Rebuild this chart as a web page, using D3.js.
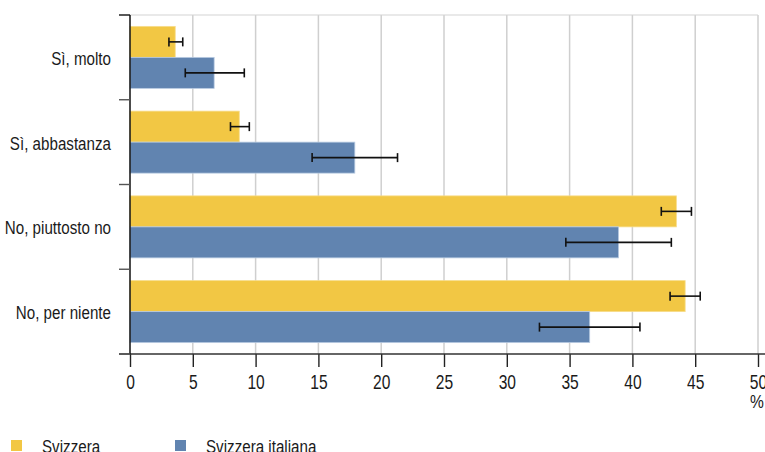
<!DOCTYPE html>
<html>
<head>
<meta charset="utf-8">
<script src="https://cdn.jsdelivr.net/npm/d3@7"></script>
<style>
  html, body { margin: 0; padding: 0; background: #fff; }
  svg { display: block; }
  text { font-family: "Liberation Sans", Arial, sans-serif; fill: #1a1a1a; }
</style>
</head>
<body>
<svg id="chart" width="765" height="452"></svg>
<script>
// Answer categories (top to bottom)
const categories = ["Sì, molto", "Sì, abbastanza", "No, piuttosto no", "No, per niente"];
const seriesNames = ["Svizzera", "Svizzera italiana"];
const seriesColors = ["#F2C744", "#6184B0"];
const seriesEdges = ["#F7DC8A", "#B9CBE2"];

// Shares in percent with confidence intervals
const svizzera = [3.6, 8.7, 43.5, 44.2];
const svizzeraLow = [3.1, 8.0, 42.3, 43.0];
const svizzeraHigh = [4.2, 9.5, 44.7, 45.4];

const italiana = [6.7, 17.9, 38.9, 36.6];
const italianaLow = [4.4, 14.5, 34.7, 32.6];
const italianaHigh = [9.1, 21.3, 43.1, 40.6];

const xTicks = [0, 5, 10, 15, 20, 25, 30, 35, 40, 45, 50];

const values = [svizzera, italiana];
const lows = [svizzeraLow, italianaLow];
const highs = [svizzeraHigh, italianaHigh];

const rows = [];
categories.forEach((c, i) => {
  seriesNames.forEach((s, j) => {
    rows.push({ cat: c, series: s, idx: j, value: values[j][i], low: lows[j][i], high: highs[j][i] });
  });
});

// Narrow lettering: regular sans squeezed horizontally
const NARROW = 0.82;
const NARROW_TICKS = 0.78;

const svg = d3.select("#chart");
const plotLeft = 130, plotRight = 758, plotTop = 15, plotBottom = 354;

const x = d3.scaleLinear().domain([0, 50]).range([plotLeft, plotRight]);
const y0 = d3.scaleBand().domain(categories).range([plotTop, plotBottom]).padding(0);
const y1 = d3.scaleBand().domain(seriesNames).range([0, y0.bandwidth()]).paddingInner(0).paddingOuter(0.367);

// Gridlines
svg.append("g").selectAll("line")
  .data(xTicks.filter(t => t > 0))
  .join("line")
  .attr("x1", d => x(d)).attr("x2", d => x(d))
  .attr("y1", plotTop).attr("y2", plotBottom)
  .attr("stroke", "#cfcfcf").attr("stroke-width", 1.5);

// Top frame line
svg.append("line")
  .attr("x1", plotLeft).attr("x2", plotRight).attr("y1", plotTop).attr("y2", plotTop)
  .attr("stroke", "#d4d4d4").attr("stroke-width", 1.2);

// Bars
svg.append("g").selectAll("rect")
  .data(rows)
  .join("rect")
  .attr("x", x(0))
  .attr("y", d => y0(d.cat) + y1(d.series))
  .attr("width", d => x(d.value) - x(0))
  .attr("height", y1.bandwidth())
  .attr("fill", d => seriesColors[d.idx])
  .attr("stroke", d => seriesEdges[d.idx])
  .attr("stroke-width", 0.8);

// Error bars
const eb = svg.append("g").attr("stroke", "#111").attr("stroke-width", 1.6).attr("fill", "none");
rows.forEach(d => {
  const cy = y0(d.cat) + y1(d.series) + y1.bandwidth() / 2;
  eb.append("line").attr("x1", x(d.low)).attr("x2", x(d.high)).attr("y1", cy).attr("y2", cy);
  eb.append("line").attr("x1", x(d.low)).attr("x2", x(d.low)).attr("y1", cy - 4.5).attr("y2", cy + 4.5);
  eb.append("line").attr("x1", x(d.high)).attr("x2", x(d.high)).attr("y1", cy - 4.5).attr("y2", cy + 4.5);
});

// Bottom axis
const xAxis = d3.axisBottom(x).tickValues(xTicks).tickSize(13).tickSizeOuter(0).tickPadding(0);
const gx = svg.append("g").attr("transform", `translate(0,${plotBottom})`).call(xAxis);
gx.select(".domain").remove();
gx.selectAll(".tick line").attr("stroke", "#222").attr("stroke-width", 1.4);
gx.selectAll(".tick text")
  .attr("font-size", 20)
  .attr("fill", "#1a1a1a")
  .attr("y", 0).attr("dy", null)
  .attr("transform", `translate(0,35) scale(${NARROW_TICKS},1)`)
  .style("font-family", '"Liberation Sans", Arial, sans-serif');
svg.append("line")
  .attr("x1", 119).attr("x2", 765).attr("y1", plotBottom).attr("y2", plotBottom)
  .attr("stroke", "#333").attr("stroke-width", 1.4);

// Left axis: vertical line with ticks at category boundaries
svg.append("line")
  .attr("x1", plotLeft).attr("x2", plotLeft).attr("y1", plotTop).attr("y2", plotBottom)
  .attr("stroke", "#111").attr("stroke-width", 1.5);
const bounds = categories.map(c => y0(c)).concat([plotBottom]);
svg.append("g").selectAll("line")
  .data(bounds)
  .join("line")
  .attr("x1", 119).attr("x2", plotLeft)
  .attr("y1", d => d).attr("y2", d => d)
  .attr("stroke", (d, i) => i === 0 ? "#111" : "#555").attr("stroke-width", 1.4);

// Category labels
svg.append("g").selectAll("text")
  .data(categories)
  .join("text")
  .attr("transform", d => `translate(111,${y0(d) + y0.bandwidth() / 2 + 7.5}) scale(${NARROW},1)`)
  .attr("text-anchor", "end")
  .attr("font-size", 18.5)
  .text(d => d);

// Unit label
svg.append("text")
  .attr("transform", `translate(${x(50) - 1},408) scale(${NARROW},1)`)
  .attr("text-anchor", "middle")
  .attr("font-size", 19)
  .text("%");

// Legend
const legendX = [11, 175];
const legend = svg.append("g");
seriesNames.forEach((s, j) => {
  legend.append("rect")
    .attr("x", legendX[j]).attr("y", 440).attr("width", 11).attr("height", 11)
    .attr("fill", seriesColors[j]);
  legend.append("text")
    .attr("transform", `translate(${legendX[j] + 31},453) scale(${NARROW},1)`)
    .attr("font-size", 18.5)
    .text(s);
});
</script>
</body>
</html>
